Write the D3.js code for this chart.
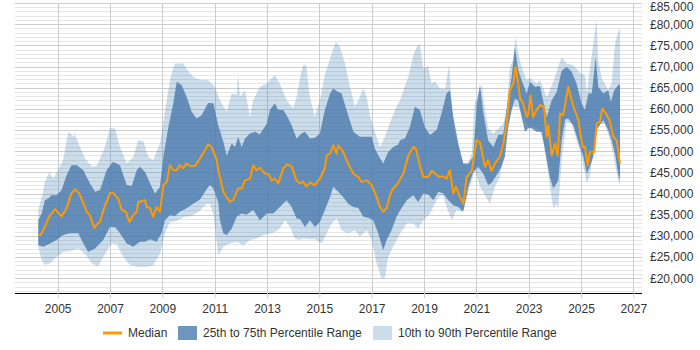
<!DOCTYPE html>
<html><head><meta charset="utf-8">
<script src="https://cdn.jsdelivr.net/npm/d3@7"></script>
<style>
html,body{margin:0;padding:0;background:#fff;}
text{font-family:"Liberation Sans",Arial,sans-serif;font-size:12px;fill:#333;}
</style></head>
<body><svg id="c" width="700" height="350"></svg>
<script>
// values in £ thousands, dates as decimal years
const median = [[2004.26,30.2],[2004.35,30.2],[2004.51,32.1],[2004.68,34.6],[2004.90,36.3],[2005.15,34.6],[2005.34,36.5],[2005.51,39.8],[2005.66,41.0],[2005.83,40.0],[2006.11,35.7],[2006.23,34.9],[2006.39,31.9],[2006.51,32.8],[2006.62,33.3],[2006.77,36.5],[2007.00,40.1],[2007.12,40.1],[2007.32,38.7],[2007.45,36.1],[2007.61,35.7],[2007.74,33.3],[2007.89,34.9],[2008.02,35.7],[2008.08,38.0],[2008.34,38.4],[2008.40,36.8],[2008.53,36.6],[2008.65,34.5],[2008.78,36.8],[2008.91,35.7],[2009.04,42.0],[2009.17,42.7],[2009.29,46.7],[2009.42,45.5],[2009.55,45.5],[2009.67,46.7],[2009.80,46.0],[2009.93,47.1],[2010.06,46.5],[2010.25,46.5],[2010.44,48.3],[2010.63,50.2],[2010.75,51.6],[2010.88,51.0],[2011.08,47.9],[2011.14,45.5],[2011.20,43.9],[2011.33,40.4],[2011.58,38.0],[2011.71,38.5],[2011.90,41.2],[2012.03,41.2],[2012.16,43.1],[2012.35,43.5],[2012.47,46.7],[2012.60,45.5],[2012.73,46.1],[2012.92,44.7],[2013.05,44.6],[2013.18,43.1],[2013.30,43.5],[2013.43,42.4],[2013.62,45.9],[2013.77,46.9],[2013.94,46.4],[2014.13,43.1],[2014.26,42.4],[2014.38,42.8],[2014.51,41.6],[2014.64,42.6],[2014.83,42.0],[2015.02,43.5],[2015.21,45.9],[2015.28,49.0],[2015.41,49.4],[2015.53,51.4],[2015.66,49.4],[2015.72,51.4],[2015.91,49.8],[2016.10,47.1],[2016.30,44.7],[2016.49,43.9],[2016.62,42.7],[2016.81,43.1],[2017.00,42.0],[2017.19,39.2],[2017.32,36.8],[2017.44,35.7],[2017.57,36.5],[2017.70,39.6],[2017.82,41.2],[2017.95,42.0],[2018.08,43.3],[2018.21,44.7],[2018.40,49.0],[2018.59,51.0],[2018.69,50.6],[2018.84,46.7],[2018.97,43.9],[2019.16,43.9],[2019.29,45.3],[2019.48,44.5],[2019.58,43.9],[2019.73,44.0],[2019.86,43.5],[2019.99,45.5],[2020.12,40.0],[2020.22,41.6],[2020.37,39.2],[2020.50,37.6],[2020.63,43.9],[2020.82,45.3],[2021.01,52.6],[2021.14,52.0],[2021.33,46.3],[2021.45,47.9],[2021.58,45.3],[2021.71,47.1],[2021.90,48.7],[2022.03,51.8],[2022.16,56.5],[2022.28,64.4],[2022.41,66.0],[2022.50,69.9],[2022.60,66.0],[2022.67,62.4],[2022.79,61.3],[2022.92,58.1],[2022.98,58.5],[2023.07,63.2],[2023.17,58.1],[2023.30,59.7],[2023.43,60.9],[2023.58,60.5],[2023.69,53.4],[2023.75,56.1],[2023.88,49.0],[2024.01,51.8],[2024.11,49.0],[2024.20,58.9],[2024.32,58.5],[2024.51,65.2],[2024.71,60.5],[2024.90,57.3],[2025.06,51.0],[2025.15,51.0],[2025.25,46.7],[2025.34,49.8],[2025.50,49.8],[2025.60,56.5],[2025.73,57.0],[2025.81,60.1],[2025.95,58.9],[2026.09,57.3],[2026.23,53.4],[2026.36,52.6],[2026.49,47.1]];

const p90 = [[2004.26,36.1],[2004.43,40.0],[2004.51,42.7],[2004.68,45.1],[2004.83,43.5],[2005.02,45.5],[2005.21,47.9],[2005.41,54.6],[2005.60,53.4],[2005.66,54.0],[2005.85,51.0],[2006.04,48.3],[2006.30,46.3],[2006.49,46.5],[2006.81,51.0],[2007.00,55.4],[2007.19,55.4],[2007.38,51.0],[2007.64,47.1],[2007.89,48.7],[2008.08,52.6],[2008.27,52.4],[2008.46,48.7],[2008.65,47.9],[2008.91,51.8],[2009.06,57.7],[2009.29,66.8],[2009.48,70.7],[2009.80,70.7],[2009.99,68.8],[2010.25,67.2],[2010.50,66.8],[2010.75,66.8],[2011.01,65.2],[2011.20,62.0],[2011.46,59.3],[2011.65,63.6],[2011.84,63.4],[2011.90,68.0],[2011.97,62.8],[2012.16,64.4],[2012.35,58.1],[2012.47,62.0],[2012.73,65.2],[2012.99,66.0],[2013.11,66.8],[2013.30,68.0],[2013.49,66.0],[2013.75,62.0],[2014.00,60.1],[2014.13,62.8],[2014.26,67.2],[2014.38,70.3],[2014.49,70.5],[2014.64,62.8],[2014.83,58.1],[2015.02,62.0],[2015.21,68.0],[2015.47,73.0],[2015.63,75.8],[2015.79,74.6],[2015.98,70.7],[2016.17,65.2],[2016.36,60.5],[2016.49,62.0],[2016.68,64.8],[2016.81,62.8],[2016.93,58.5],[2017.12,54.6],[2017.32,51.0],[2017.51,53.4],[2017.76,57.7],[2017.95,60.5],[2018.08,62.0],[2018.40,67.6],[2018.59,72.6],[2018.72,74.6],[2018.84,75.4],[2018.97,69.5],[2019.16,70.0],[2019.29,66.0],[2019.42,66.5],[2019.61,64.8],[2019.80,64.6],[2019.96,70.3],[2020.12,55.7],[2020.31,51.0],[2020.50,47.1],[2020.69,47.5],[2020.82,49.4],[2020.94,62.0],[2021.07,61.5],[2021.20,66.0],[2021.33,59.7],[2021.45,55.4],[2021.65,54.2],[2021.90,55.7],[2022.03,56.5],[2022.16,59.7],[2022.28,69.9],[2022.41,71.5],[2022.50,77.0],[2022.60,73.0],[2022.73,69.9],[2022.92,66.8],[2023.07,67.2],[2023.30,66.0],[2023.43,66.8],[2023.69,62.8],[2023.94,66.4],[2024.13,69.9],[2024.26,72.2],[2024.45,70.7],[2024.71,70.3],[2024.96,68.5],[2025.15,68.0],[2025.22,63.6],[2025.31,68.0],[2025.52,77.8],[2025.60,81.0],[2025.66,71.5],[2025.79,67.2],[2026.04,64.4],[2026.17,66.0],[2026.30,75.4],[2026.42,78.2],[2026.49,79.0]];

const p75 = [[2004.26,33.7],[2004.39,35.3],[2004.51,38.4],[2004.64,38.8],[2004.77,39.6],[2004.96,39.6],[2005.15,40.8],[2005.34,44.3],[2005.53,46.7],[2005.73,46.7],[2005.98,45.5],[2006.23,42.4],[2006.43,40.4],[2006.62,40.8],[2006.87,45.5],[2007.12,47.5],[2007.38,46.7],[2007.64,42.0],[2007.83,41.8],[2008.02,45.5],[2008.14,46.3],[2008.34,45.1],[2008.53,42.4],[2008.72,40.0],[2008.91,41.6],[2009.04,48.7],[2009.23,55.7],[2009.42,61.3],[2009.55,66.4],[2009.74,65.6],[2009.93,62.8],[2010.12,59.3],[2010.31,57.7],[2010.50,58.5],[2010.75,61.4],[2010.95,61.3],[2011.14,56.0],[2011.33,52.3],[2011.46,49.0],[2011.65,51.8],[2011.78,51.0],[2011.90,53.4],[2012.03,51.0],[2012.16,53.0],[2012.35,54.2],[2012.54,54.6],[2012.73,54.0],[2012.99,56.5],[2013.11,59.7],[2013.30,61.3],[2013.43,59.7],[2013.62,59.7],[2013.75,58.5],[2013.94,56.1],[2014.13,53.0],[2014.32,54.2],[2014.45,54.6],[2014.64,53.0],[2014.83,53.2],[2015.02,54.2],[2015.21,59.7],[2015.41,63.6],[2015.53,64.8],[2015.66,64.2],[2015.85,63.6],[2016.04,59.7],[2016.30,54.6],[2016.55,53.4],[2016.81,53.4],[2017.00,53.4],[2017.12,50.6],[2017.32,48.3],[2017.44,47.1],[2017.63,49.8],[2017.82,51.0],[2018.02,51.6],[2018.08,52.6],[2018.27,53.0],[2018.46,55.7],[2018.65,60.5],[2018.84,59.7],[2019.03,55.7],[2019.23,53.8],[2019.48,55.0],[2019.67,58.9],[2019.86,63.6],[2019.99,64.4],[2020.12,58.1],[2020.31,51.8],[2020.50,47.1],[2020.69,47.0],[2020.88,48.7],[2021.03,62.0],[2021.14,65.6],[2021.26,59.3],[2021.45,52.6],[2021.65,51.0],[2021.84,53.8],[2022.03,54.0],[2022.22,62.8],[2022.35,67.6],[2022.47,74.6],[2022.60,69.2],[2022.73,66.8],[2022.92,63.6],[2023.05,66.4],[2023.24,65.2],[2023.43,65.4],[2023.69,58.1],[2023.88,62.0],[2024.07,64.0],[2024.26,69.0],[2024.45,69.9],[2024.64,68.8],[2024.83,66.0],[2025.02,61.3],[2025.15,59.7],[2025.28,63.6],[2025.41,63.6],[2025.56,72.2],[2025.66,65.2],[2025.85,63.6],[2026.04,64.4],[2026.14,61.6],[2026.27,64.4],[2026.42,65.6],[2026.49,65.8]];

const p25 = [[2004.26,27.8],[2004.45,27.4],[2004.71,28.2],[2004.96,29.0],[2005.21,30.2],[2005.47,30.6],[2005.79,30.6],[2005.98,28.2],[2006.17,26.2],[2006.43,27.0],[2006.74,29.0],[2007.00,32.1],[2007.19,32.1],[2007.38,30.6],[2007.64,28.2],[2007.89,27.4],[2008.14,28.6],[2008.34,28.6],[2008.53,29.2],[2008.78,28.6],[2008.97,30.6],[2009.10,33.7],[2009.29,34.9],[2009.48,34.7],[2009.67,35.7],[2009.93,36.5],[2010.18,37.6],[2010.44,38.6],[2010.69,41.0],[2010.82,42.0],[2010.95,41.2],[2011.14,37.8],[2011.20,33.7],[2011.33,30.6],[2011.46,30.2],[2011.65,31.7],[2011.84,34.5],[2012.03,35.3],[2012.22,35.0],[2012.47,36.1],[2012.73,33.7],[2012.99,35.3],[2013.24,35.3],[2013.49,36.8],[2013.75,38.4],[2013.94,36.8],[2014.13,34.1],[2014.26,34.0],[2014.45,32.1],[2014.64,33.7],[2014.83,32.1],[2015.02,33.3],[2015.21,36.1],[2015.41,39.2],[2015.53,41.6],[2015.72,40.4],[2015.91,39.2],[2016.10,37.6],[2016.30,36.8],[2016.49,36.6],[2016.68,34.5],[2016.87,34.3],[2017.06,33.7],[2017.25,30.6],[2017.44,26.6],[2017.57,29.0],[2017.76,31.3],[2017.95,34.5],[2018.08,36.0],[2018.34,38.4],[2018.59,39.6],[2018.78,38.0],[2018.97,40.0],[2019.16,39.8],[2019.35,38.4],[2019.55,40.4],[2019.73,40.0],[2019.93,38.4],[2020.12,37.2],[2020.31,36.8],[2020.50,35.7],[2020.69,41.6],[2020.88,45.1],[2021.07,46.3],[2021.26,44.7],[2021.45,42.0],[2021.58,42.5],[2021.77,44.3],[2021.96,46.3],[2022.09,48.7],[2022.22,55.7],[2022.35,59.7],[2022.47,62.4],[2022.60,62.0],[2022.73,58.1],[2022.86,54.6],[2022.98,55.4],[2023.11,55.4],[2023.30,54.6],[2023.50,54.6],[2023.62,50.2],[2023.81,43.9],[2023.94,41.2],[2024.13,43.0],[2024.26,52.6],[2024.39,57.5],[2024.51,57.7],[2024.71,56.0],[2024.90,52.2],[2025.09,48.7],[2025.22,44.7],[2025.34,46.5],[2025.47,48.7],[2025.56,55.0],[2025.66,55.7],[2025.85,57.3],[2026.04,55.0],[2026.17,52.6],[2026.30,49.4],[2026.42,44.7],[2026.49,43.1]];

const p10 = [[2004.26,27.4],[2004.39,24.2],[2004.51,23.1],[2004.71,23.5],[2004.96,25.0],[2005.21,26.2],[2005.47,26.4],[2005.79,27.0],[2006.04,25.8],[2006.30,23.5],[2006.55,22.7],[2006.81,25.8],[2007.06,28.2],[2007.25,28.0],[2007.51,25.0],[2007.76,23.1],[2008.08,22.7],[2008.40,22.7],[2008.65,23.0],[2008.91,25.8],[2009.10,30.6],[2009.29,33.3],[2009.55,33.5],[2009.86,34.5],[2010.12,34.7],[2010.44,36.0],[2010.69,37.5],[2010.82,37.5],[2010.95,35.3],[2011.01,32.0],[2011.14,25.4],[2011.33,27.4],[2011.58,28.2],[2011.84,28.6],[2012.09,27.8],[2012.35,29.0],[2012.60,29.4],[2012.86,30.2],[2013.18,30.6],[2013.43,31.3],[2013.69,33.7],[2013.88,32.1],[2014.07,29.4],[2014.20,29.0],[2014.38,29.4],[2014.58,29.2],[2014.83,29.2],[2015.09,28.2],[2015.28,30.6],[2015.47,32.9],[2015.66,34.1],[2015.85,31.3],[2016.10,30.6],[2016.36,31.3],[2016.55,29.8],[2016.81,31.3],[2017.00,29.0],[2017.19,23.5],[2017.38,19.9],[2017.51,20.2],[2017.63,25.0],[2017.82,27.4],[2018.08,30.5],[2018.34,32.9],[2018.59,32.9],[2018.78,31.7],[2018.97,33.7],[2019.23,35.3],[2019.35,36.8],[2019.55,39.2],[2019.73,39.6],[2019.86,36.8],[2020.06,33.7],[2020.25,36.1],[2020.44,35.7],[2020.56,37.2],[2020.75,41.6],[2020.94,45.5],[2021.14,41.6],[2021.33,39.6],[2021.52,37.6],[2021.71,41.6],[2021.90,43.9],[2022.09,51.8],[2022.22,58.1],[2022.41,60.5],[2022.60,60.3],[2022.79,58.1],[2022.98,55.7],[2023.17,55.7],[2023.43,55.0],[2023.62,51.0],[2023.81,41.6],[2023.94,36.5],[2024.07,37.5],[2024.13,36.5],[2024.26,47.9],[2024.45,57.0],[2024.64,56.5],[2024.83,52.6],[2025.02,48.7],[2025.22,42.4],[2025.34,44.2],[2025.54,53.4],[2025.73,56.5],[2025.91,56.3],[2026.11,52.6],[2026.23,49.4],[2026.42,43.1],[2026.49,42.0]];

const xTickYears = [2005,2007,2009,2011,2013,2015,2017,2019,2021,2023,2025,2027];
const yTickValues = [20,25,30,35,40,45,50,55,60,65,70,75,80,85];
const legendLabels = ["Median","25th to 75th Percentile Range","10th to 90th Percentile Range"];

const svg = d3.select("#c");
const L = 15, R = 642, T = 3, B = 293;
const x = d3.scaleLinear().domain([2003.37, 2027.33]).range([L, R]);
const y = d3.scaleLinear().domain([16.5, 85]).range([B, T]);

// minor grid
const minor = d3.range(17, 85.01, 1).filter(v => Math.abs(v % 5) > 0.01);
svg.append("g").selectAll("line").data(minor).join("line")
  .attr("x1", L).attr("x2", R).attr("y1", d => Math.round(y(d)) + 0.5).attr("y2", d => Math.round(y(d)) + 0.5)
  .attr("stroke", "#e6e6e6").attr("stroke-width", 1);
// major grid
svg.append("g").selectAll("line").data(yTickValues).join("line")
  .attr("x1", L).attr("x2", R).attr("y1", d => Math.round(y(d)) + 0.5).attr("y2", d => Math.round(y(d)) + 0.5)
  .attr("stroke", "#cccccc").attr("stroke-width", 1);
// vertical grid
svg.append("g").selectAll("line").data(xTickYears).join("line")
  .attr("x1", d => Math.round(x(d)) + 0.5).attr("x2", d => Math.round(x(d)) + 0.5)
  .attr("y1", T).attr("y2", B)
  .attr("stroke", "#cccccc").attr("stroke-width", 1);

const line = d3.line().x(d => x(d[0])).y(d => y(d[1]));
function band(upper, lower) {
  return line(upper.concat(lower.slice().reverse())) + "Z";
}
svg.append("path").attr("d", band(p90, p10)).attr("fill", "rgb(70,130,180)").attr("fill-opacity", 0.28);
svg.append("path").attr("d", band(p75, p25)).attr("fill", "#4a7aad").attr("fill-opacity", 0.8);
svg.append("path").attr("d", line(median)).attr("fill", "none").attr("stroke", "#ff9900")
  .attr("stroke-width", 2).attr("stroke-linejoin", "round");

// x axis
const xAxis = d3.axisBottom(x).tickValues(xTickYears).tickFormat(d3.format("d")).tickSize(5).tickPadding(6);
const gx = svg.append("g").attr("transform", `translate(0,${B})`).call(xAxis);
gx.select(".domain").attr("stroke", "#000").attr("d", `M${L},0.5H${R}`);
gx.selectAll(".tick line").attr("stroke", "#cccccc");
gx.selectAll("text").style("font-size", "12px").attr("fill", "#333");

// y axis labels on right
const yAxis = d3.axisRight(y).tickValues(yTickValues).tickSize(0).tickPadding(8)
  .tickFormat(d => "£" + d3.format(",")(d * 1000));
const gy = svg.append("g").attr("transform", `translate(${R},0)`).call(yAxis);
gy.select(".domain").remove();
gy.selectAll("text").style("font-size", "12px").attr("fill", "#333");
// keep the topmost label inside the picture
gy.selectAll(".tick text").filter(d => d === 85).attr("y", 4);

// legend
const lg = svg.append("g");
lg.append("line").attr("x1", 103).attr("x2", 122).attr("y1", 333).attr("y2", 333)
  .attr("stroke", "#ff9900").attr("stroke-width", 3);
lg.append("text").attr("x", 128).attr("y", 333).attr("dy", "0.35em").text(legendLabels[0]);
lg.append("rect").attr("x", 178).attr("y", 326).attr("width", 19).attr("height", 14)
  .attr("fill", "#4a7aad").attr("fill-opacity", 0.8);
lg.append("text").attr("x", 203).attr("y", 333).attr("dy", "0.35em").text(legendLabels[1]);
lg.append("rect").attr("x", 373).attr("y", 326).attr("width", 19).attr("height", 14)
  .attr("fill", "rgb(70,130,180)").attr("fill-opacity", 0.28);
lg.append("text").attr("x", 398).attr("y", 333).attr("dy", "0.35em").text(legendLabels[2]);
</script></body></html>
